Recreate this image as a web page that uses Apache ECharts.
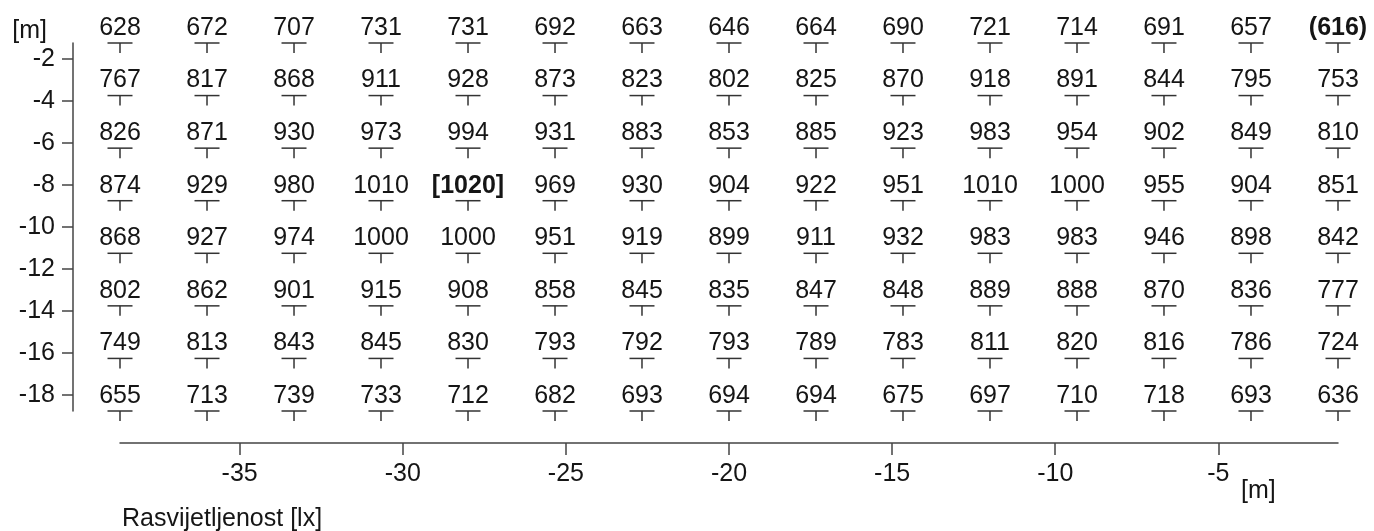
<!DOCTYPE html>
<html>
<head>
<meta charset="utf-8">
<script src="https://cdn.jsdelivr.net/npm/echarts@6/dist/echarts.min.js"></script>
<style>
  html, body { margin: 0; padding: 0; background: #fff; }
  #chart { width: 1374px; height: 531px; }
</style>
</head>
<body>
<div id="chart"></div>
<script>
// measuring grid, 15 x 8 points (room 40 m x 20 m)
var colX = [-38.667, -36, -33.333, -30.667, -28, -25.333, -22.667, -20, -17.333, -14.667, -12, -9.333, -6.667, -4, -1.333];
var rowY = [-1.25, -3.75, -6.25, -8.75, -11.25, -13.75, -16.25, -18.75];

var row1 = [628, 672, 707, 731, 731, 692, 663, 646, 664, 690, 721, 714, 691, 657, 616];
var row2 = [767, 817, 868, 911, 928, 873, 823, 802, 825, 870, 918, 891, 844, 795, 753];
var row3 = [826, 871, 930, 973, 994, 931, 883, 853, 885, 923, 983, 954, 902, 849, 810];
var row4 = [874, 929, 980, 1010, 1020, 969, 930, 904, 922, 951, 1010, 1000, 955, 904, 851];
var row5 = [868, 927, 974, 1000, 1000, 951, 919, 899, 911, 932, 983, 983, 946, 898, 842];
var row6 = [802, 862, 901, 915, 908, 858, 845, 835, 847, 848, 889, 888, 870, 836, 777];
var row7 = [749, 813, 843, 845, 830, 793, 792, 793, 789, 783, 811, 820, 816, 786, 724];
var row8 = [655, 713, 739, 733, 712, 682, 693, 694, 694, 675, 697, 710, 718, 693, 636];

var xTicks = [-35, -30, -25, -20, -15, -10, -5];
var yTicks = [-18, -16, -14, -12, -10, -8, -6, -4, -2];

var rows = [row1, row2, row3, row4, row5, row6, row7, row8];
var FONT = '"Liberation Sans", Arial, sans-serif';
var INK = '#151515';

(function () {
    var chart = echarts.init(document.getElementById('chart'));

    var data = [];
    var minV = Infinity, maxV = -Infinity;
    for (var r = 0; r < rows.length; r++) {
        for (var c = 0; c < colX.length; c++) {
            data.push([colX[c], rowY[r], rows[r][c]]);
            minV = Math.min(minV, rows[r][c]);
            maxV = Math.max(maxV, rows[r][c]);
        }
    }

    // T marker under each value, min in (), max in []
    function renderPoint(params, api) {
        var p = api.coord([api.value(0), api.value(1)]);
        var v = api.value(2);
        var txt = String(v);
        var bold = false;
        if (v === minV) { txt = '(' + v + ')'; bold = true; }
        if (v === maxV) { txt = '[' + v + ']'; bold = true; }
        var line = { stroke: '#333', lineWidth: 1.5 };
        return {
            type: 'group',
            children: [
                { type: 'line', shape: { x1: p[0] - 12.5, y1: p[1], x2: p[0] + 12.5, y2: p[1] }, style: line },
                { type: 'line', shape: { x1: p[0], y1: p[1], x2: p[0], y2: p[1] + 10 }, style: line },
                {
                    type: 'text', x: p[0], y: p[1] - 15,
                    style: {
                        text: txt, align: 'center', verticalAlign: 'middle',
                        fontSize: 25, fontFamily: FONT, fontWeight: bold ? 'bold' : 'normal', fill: INK
                    }
                }
            ]
        };
    }

    var option = {
        backgroundColor: '#fff',
        animation: false,
        grid: { left: 120, right: 36, top: 43, bottom: 120 },
        xAxis: {
            type: 'value',
            min: -38.667,
            max: -1.333,
            offset: 32,
            splitLine: { show: false },
            axisLine: { lineStyle: { color: '#444', width: 1.5 } },
            axisTick: { customValues: xTicks, length: 12, lineStyle: { color: '#444', width: 1.5 } },
            axisLabel: { customValues: xTicks, margin: 19, fontSize: 25, fontFamily: FONT, color: INK }
        },
        yAxis: {
            type: 'value',
            min: -18.75,
            max: -1.25,
            offset: 47,
            name: '[m]',
            nameLocation: 'end',
            nameGap: -1,
            nameTextStyle: { fontSize: 25, fontFamily: FONT, color: INK, align: 'right', padding: [0, 26, 0, 0] },
            splitLine: { show: false },
            axisLine: { lineStyle: { color: '#444', width: 1.5 } },
            axisTick: { customValues: yTicks, length: 11, lineStyle: { color: '#444', width: 1.5 } },
            axisLabel: { customValues: yTicks, margin: 18, fontSize: 25, fontFamily: FONT, color: INK }
        },
        graphic: [
            { type: 'text', left: 1241, top: 479, style: { text: '[m]', fontSize: 25, fontFamily: FONT, fill: INK } },
            { type: 'text', left: 122, top: 507, style: { text: 'Rasvijetljenost [lx]', fontSize: 25, fontFamily: FONT, fill: INK } }
        ],
        series: [{
            type: 'custom',
            clip: false,
            renderItem: renderPoint,
            data: data
        }]
    };
    chart.setOption(option);
})();
</script>
</body>
</html>
